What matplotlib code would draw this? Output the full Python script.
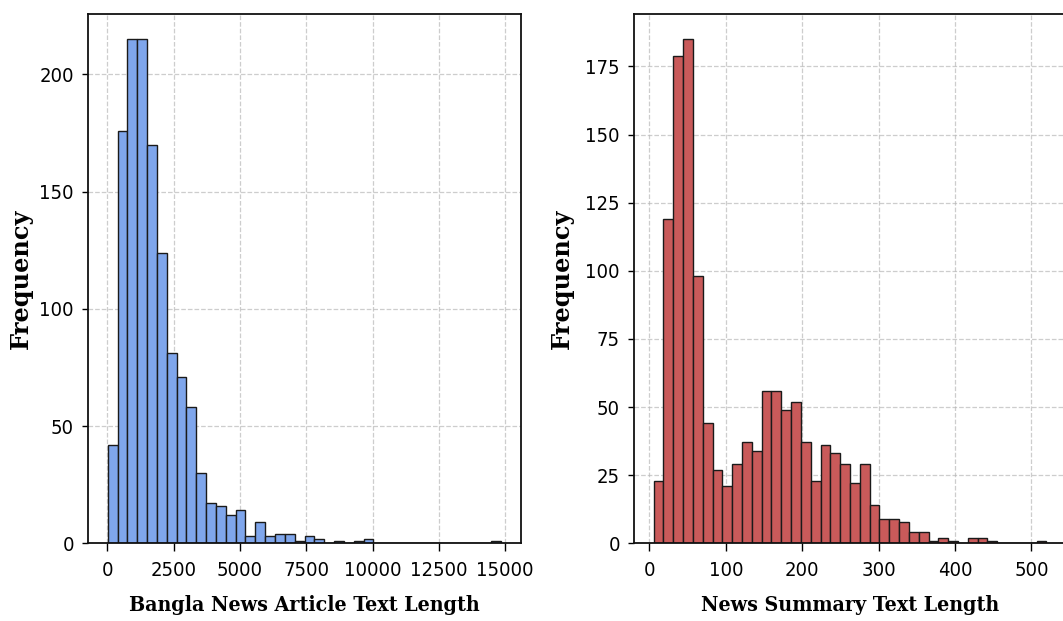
import numpy as np
import matplotlib
matplotlib.use("Agg")
import matplotlib.pyplot as plt

# ---- data (40 bins per histogram) ----
article_range = (15, 14855)
article_counts = [42, 176, 215, 215, 170, 124, 81, 71, 58, 30,
                  17, 16, 12, 14, 3, 9, 3, 4, 4, 1,
                  3, 2, 0, 1, 0, 1, 2, 0, 0, 0,
                  0, 0, 0, 0, 0, 0, 0, 0, 0, 1]

summary_range = (5.5, 519.5)
summary_counts = [23, 119, 179, 185, 98, 44, 27, 21, 29, 37,
                  34, 56, 56, 49, 52, 37, 23, 36, 33, 29,
                  22, 29, 14, 9, 9, 8, 4, 4, 1, 2,
                  1, 0, 2, 2, 1, 0, 0, 0, 0, 1]

article_xticks = [0, 2500, 5000, 7500, 10000, 12500, 15000]
summary_xticks = [0, 100, 200, 300, 400, 500]
article_yticks = [0, 50, 100, 150, 200]
summary_yticks = [0, 25, 50, 75, 100, 125, 150, 175]

xlabels = ["Bangla News Article Text Length", "News Summary Text Length"]
ylabel = "Frequency"

colors = ["#7FA6EC", "#C95A5A"]

tick_font = dict(family="DejaVu Sans", stretch="condensed", size=14.5)
xlab_font = dict(family="DejaVu Serif", stretch="condensed", weight="bold", size=15.3)
ylab_font = dict(family="DejaVu Serif", weight="bold", size=17.3)

fig = plt.figure(figsize=(10.63, 6.21), dpi=100)
W, H = 1063, 621
axL = fig.add_axes([88 / W, (H - 543.3) / H, 433 / W, 529.3 / H])
axR = fig.add_axes([634 / W, (H - 543.3) / H, 432 / W, 529.3 / H])

panels = [
    (axL, article_range, article_counts, article_xticks, article_yticks, colors[0], xlabels[0], -0.127),
    (axR, summary_range, summary_counts, summary_xticks, summary_yticks, colors[1], xlabels[1], -0.139),
]

for ax, rng, counts, xt, yt, col, xl, ylx in panels:
    edges = np.linspace(rng[0], rng[1], len(counts) + 1)
    ax.hist(edges[:-1], bins=edges, weights=counts, color=col,
            edgecolor="#1a1a1a", linewidth=1.0)
    ax.set_axisbelow(True)
    ax.grid(True, linestyle="--", color="#b8b8b8", linewidth=0.9, alpha=0.7)
    ax.set_xticks(xt)
    ax.set_yticks(yt)
    ax.set_xticklabels([str(v) for v in xt], fontdict=tick_font)
    ax.set_yticklabels([str(v) for v in yt], fontdict=tick_font)
    ax.tick_params(axis="x", length=6, width=1.0, pad=6.5)
    ax.tick_params(axis="y", length=4.3, width=1.0, pad=5.8)
    for s in ax.spines.values():
        s.set_linewidth(1.3)
        s.set_color("#111111")
    ax.set_xlabel(xl, fontdict=xlab_font)
    ax.xaxis.set_label_coords(0.5, -0.097)
    ax.set_ylabel(ylabel, fontdict=ylab_font)
    ax.yaxis.set_label_coords(ylx, 0.5)

fig.savefig("out.png", dpi=100)
